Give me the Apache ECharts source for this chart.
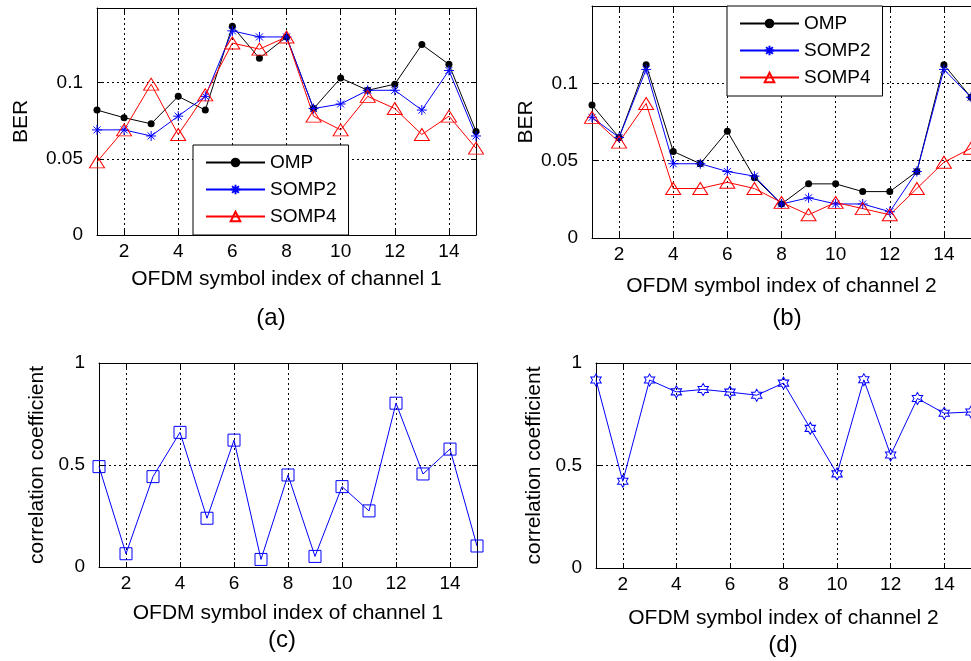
<!DOCTYPE html>
<html>
<head>
<meta charset="utf-8">
<script src="https://cdn.jsdelivr.net/npm/echarts@6/dist/echarts.min.js"></script>
<style>
  html, body { margin: 0; padding: 0; background: #fff; }
  #chart { width: 971px; height: 661px; }
</style>
</head>
<body>
<div id="chart"></div>
<script>
// symbol index on the x axis (1..15) and the tick labels
const symbolIndex = [1, 2, 3, 4, 5, 6, 7, 8, 9, 10, 11, 12, 13, 14, 15];
const xTicks = [2, 4, 6, 8, 10, 12, 14];
const berTicks = [0, 0.05, 0.1];
const corrTicks = [0, 0.5, 1];

// (a) BER, channel 1
const ompCh1 = [0.082, 0.077, 0.073, 0.091, 0.082, 0.137, 0.116, 0.130, 0.083, 0.103, 0.095, 0.099, 0.125, 0.112, 0.068];
const somp2Ch1 = [0.069, 0.069, 0.065, 0.078, 0.091, 0.134, 0.130, 0.130, 0.083, 0.086, 0.095, 0.095, 0.082, 0.108, 0.065];
const somp4Ch1 = [0.048, 0.069, 0.099, 0.066, 0.092, 0.126, 0.122, 0.130, 0.078, 0.069, 0.091, 0.083, 0.066, 0.078, 0.057];

// (b) BER, channel 2
const ompCh2 = [0.086, 0.065, 0.112, 0.056, 0.048, 0.069, 0.039, 0.022, 0.035, 0.035, 0.030, 0.030, 0.043, 0.112, 0.091];
const somp2Ch2 = [0.078, 0.065, 0.109, 0.048, 0.048, 0.043, 0.040, 0.022, 0.026, 0.022, 0.022, 0.017, 0.043, 0.109, 0.091];
const somp4Ch2 = [0.078, 0.062, 0.087, 0.032, 0.032, 0.036, 0.032, 0.023, 0.015, 0.023, 0.019, 0.015, 0.032, 0.049, 0.058];

// (c), (d) correlation coefficient
const corrCh1 = [0.492, 0.065, 0.443, 0.660, 0.239, 0.622, 0.037, 0.451, 0.052, 0.394, 0.275, 0.803, 0.456, 0.578, 0.103];
const corrCh2 = [0.917, 0.423, 0.917, 0.859, 0.871, 0.858, 0.843, 0.902, 0.681, 0.459, 0.918, 0.551, 0.827, 0.755, 0.761];

const font = "'Liberation Sans', Arial, Helvetica, sans-serif";
const legendNames = ['OMP', 'SOMP2', 'SOMP4'];

function pairs(values) {
  return symbolIndex.map((x, i) => [x, values[i]]);
}

function hexagram() {
  const pts = [];
  for (let k = 0; k < 12; k += 1) {
    const r = k % 2 === 0 ? 1 : 0.5774;
    const a = (-90 + 30 * k) * Math.PI / 180;
    pts.push((r * Math.cos(a)).toFixed(3) + ',' + (r * Math.sin(a)).toFixed(3));
  }
  return 'path://M' + pts.join('L') + 'Z';
}
const asterisk = 'path://M0,-1L0,1M-1,0L1,0M-0.7,-0.7L0.7,0.7M-0.7,0.7L0.7,-0.7';

const panels = [
  { grid: { left: 97, top: 8, width: 379, height: 227 }, yMax: 0.149, yTicks: berTicks,
    xName: 'OFDM symbol index of channel 1', yName: 'BER', xGap: 34, yGap: 65, tag: '(a)', tagAt: [271, 318] },
  { grid: { left: 592, top: 6, width: 380, height: 232 }, yMax: 0.150, yTicks: berTicks,
    xName: 'OFDM symbol index of channel 2', yName: 'BER', xGap: 38, yGap: 55, tag: '(b)', tagAt: [787, 318] },
  { grid: { left: 99, top: 363, width: 378, height: 204 }, yMax: 1, yTicks: corrTicks,
    xName: 'OFDM symbol index of channel 1', yName: 'correlation coefficient', xGap: 36, yGap: 51, tag: '(c)', tagAt: [282, 640] },
  { grid: { left: 596, top: 363, width: 376, height: 205 }, yMax: 1, yTicks: corrTicks,
    xName: 'OFDM symbol index of channel 2', yName: 'correlation coefficient', xGap: 40, yGap: 51, tag: '(d)', tagAt: [783, 645] }
];

const black = '#000';
const axisLine = { show: true, onZero: false, lineStyle: { color: black, width: 1 } };
const gridLine = { show: true, lineStyle: { color: black, width: 1, type: [2, 3] } };
const labelText = { fontSize: 19, color: black, fontFamily: font };
const nameText = { fontSize: 21, color: black, fontFamily: font };

const xAxes = [];
const yAxes = [];
panels.forEach((p, i) => {
  xAxes.push({
    type: 'value', gridIndex: i, min: 1, max: 15, position: 'bottom',
    name: p.xName, nameLocation: 'middle', nameGap: p.xGap, nameTextStyle: nameText,
    axisLine: axisLine,
    axisTick: { show: true, inside: true, length: 5, customValues: xTicks, lineStyle: { color: black } },
    axisLabel: Object.assign({ customValues: xTicks, margin: 7 }, labelText),
    splitLine: gridLine
  });
  xAxes.push({
    type: 'value', gridIndex: i, min: 1, max: 15, position: 'top',
    axisLine: axisLine,
    axisTick: { show: true, inside: true, length: 5, customValues: xTicks, lineStyle: { color: black } },
    axisLabel: { show: false },
    splitLine: { show: false }
  });
  yAxes.push({
    type: 'value', gridIndex: i, min: 0, max: p.yMax, position: 'left',
    name: p.yName, nameLocation: 'middle', nameGap: p.yGap, nameTextStyle: nameText,
    axisLine: axisLine,
    axisTick: { show: true, inside: true, length: 5, customValues: p.yTicks, lineStyle: { color: black } },
    axisLabel: Object.assign({ customValues: p.yTicks, margin: 14 }, labelText),
    splitLine: gridLine
  });
  yAxes.push({
    type: 'value', gridIndex: i, min: 0, max: p.yMax, position: 'right',
    axisLine: axisLine,
    axisTick: { show: true, inside: true, length: 5, customValues: p.yTicks, lineStyle: { color: black } },
    axisLabel: { show: false },
    splitLine: { show: false }
  });
});

function ompSeries(values, i) {
  return {
    name: 'OMP', type: 'line', xAxisIndex: 2 * i, yAxisIndex: 2 * i, data: pairs(values),
    symbol: 'circle', symbolSize: 7,
    itemStyle: { color: black, borderColor: black, borderWidth: 0 },
    lineStyle: { color: black, width: 1 }
  };
}
function somp2Series(values, i) {
  return {
    name: 'SOMP2', type: 'line', xAxisIndex: 2 * i, yAxisIndex: 2 * i, data: pairs(values),
    symbol: asterisk, symbolSize: 10,
    itemStyle: { color: 'rgba(0,0,0,0)', borderColor: '#0000ff', borderWidth: 1 },
    lineStyle: { color: '#0000ff', width: 1 }
  };
}
function somp4Series(values, i) {
  return {
    name: 'SOMP4', type: 'line', xAxisIndex: 2 * i, yAxisIndex: 2 * i, data: pairs(values),
    symbol: 'triangle', symbolSize: [15, 12],
    itemStyle: { color: 'rgba(0,0,0,0)', borderColor: '#ff0000', borderWidth: 1 },
    lineStyle: { color: '#ff0000', width: 1 }
  };
}

const series = [
  ompSeries(ompCh1, 0), somp2Series(somp2Ch1, 0), somp4Series(somp4Ch1, 0),
  ompSeries(ompCh2, 1), somp2Series(somp2Ch2, 1), somp4Series(somp4Ch2, 1),
  {
    name: 'corr1', type: 'line', xAxisIndex: 4, yAxisIndex: 4, data: pairs(corrCh1),
    symbol: 'rect', symbolSize: 12,
    itemStyle: { color: 'rgba(0,0,0,0)', borderColor: '#0000ff', borderWidth: 1 },
    lineStyle: { color: '#0000ff', width: 1 }
  },
  {
    name: 'corr2', type: 'line', xAxisIndex: 6, yAxisIndex: 6, data: pairs(corrCh2),
    symbol: hexagram(), symbolSize: [10.4, 12],
    itemStyle: { color: 'rgba(0,0,0,0)', borderColor: '#0000ff', borderWidth: 1 },
    lineStyle: { color: '#0000ff', width: 1 }
  }
];

function legendAt(left, top) {
  return {
    data: legendNames, orient: 'vertical', left: left, top: top,
    itemWidth: 59, itemHeight: 12, itemGap: 8,
    padding: [8, 12, 9, 12],
    borderColor: black, borderWidth: 1, backgroundColor: '#fff',
    selectedMode: false,
    textStyle: { fontSize: 19, color: black, fontFamily: font, lineHeight: 19 }
  };
}

const chart = echarts.init(document.getElementById('chart'), null, { renderer: 'canvas' });
chart.setOption({
  animation: false,
  backgroundColor: '#fff',
  grid: panels.map((p) => p.grid),
  xAxis: xAxes,
  yAxis: yAxes,
  legend: [legendAt(193, 145), legendAt(727, 6)],
  graphic: panels.map((p) => ({
    type: 'text', x: p.tagAt[0], y: p.tagAt[1],
    style: { text: p.tag, align: 'center', verticalAlign: 'middle', font: '24px ' + font, fill: black }
  })),
  series: series
});
</script>
</body>
</html>
